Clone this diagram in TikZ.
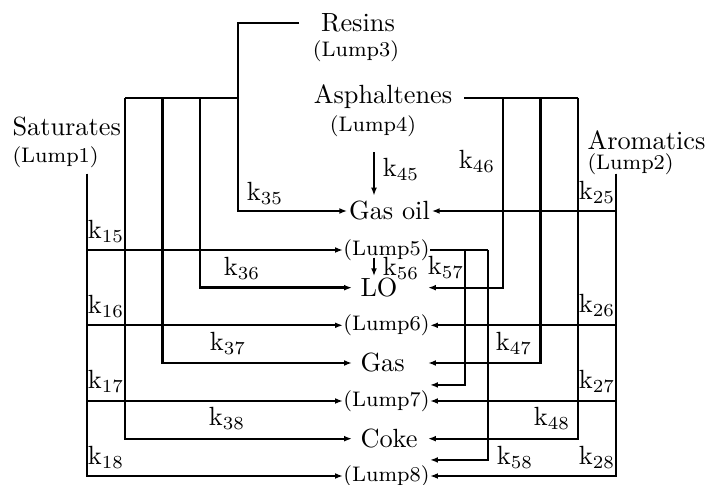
\documentclass[tikz,border=0pt]{standalone}
\usetikzlibrary{arrows.meta,calc}
\begin{document}
\begin{tikzpicture}[x=0.38pt,y=-0.38pt,
  ln/.style={line width=0.85pt},
  arr/.style={ln,-{Latex[length=3pt,width=2.2pt]}},
  heavy/.style={line width=1.0pt},
  lbl/.style={inner sep=0pt},
  title/.style={inner sep=0pt},
  lump/.style={inner sep=0pt,font=\footnotesize},
  prod/.style={anchor=west,inner xsep=3.04pt,inner ysep=0.5pt,text width=22.4pt,align=left},
  ]
\useasboundingbox (0,0) rectangle (707,485);
% feed lumps
\node[title,anchor=west] (sat) at (12,127) {Saturates};
\node[lump,anchor=west] (l1) at (12,157.5) {(Lump1)};
\node[title,anchor=west] (aro) at (587,140) {Aromatics};
\node[lump,anchor=west] (l2) at (587,164.5) {(Lump2)};
\node[title] (res) at (358,22.5) {Resins};
\node[lump] (l3) at (356,51) {(Lump3)};
\node[title] (asp) at (383,96.5) {Asphaltenes};
\node[lump] (l4) at (373,126) {(Lump4)};
% products
\node[inner xsep=0.5pt,inner ysep=2pt] (go) at (389.5,211) {Gas oil};
\node[lump] (l5) at (386.5,250) {(Lump5)};
\node[prod] (lo) at (352,287.7) {LO};
\node[lump] (l6) at (386.5,325.3) {(Lump6)};
\node[prod] (gas) at (352,363) {Gas};
\node[lump] (l7) at (386.5,401) {(Lump7)};
\node[prod] (coke) at (352,438.7) {Coke};
\node[lump] (l8) at (386.5,476) {(Lump8)};
% junction coordinates
\coordinate (s0) at (87,174);
\coordinate (a0) at (616,174);
\coordinate (r0) at (299,22.7);
\coordinate (rj) at (237.7,97.7);
\coordinate (r36) at (200,97.7);
\coordinate (r37) at (162.5,97.7);
\coordinate (r38) at (125,97.7);
\coordinate (aj) at (464,97.7);
\coordinate (a46) at (503,97.7);
\coordinate (a47) at (540.7,97.7);
\coordinate (a48) at (578,97.7);
\coordinate (b57) at (465,250);
\coordinate (b58) at (488,250);
% Saturates
\foreach \t in {l5,l6,l7,l8} \draw[arr] (s0) |- (\t.west);
% Aromatics
\foreach \t in {go,l6,l7,l8} \draw[arr] (a0) |- (\t.east);
% Resins
\draw[ln] (r0) -| (rj);
\draw[arr] (rj) |- (go.west);
\draw[ln] (rj) -- (r38);
\draw[arr,heavy] (r36) |- (lo.west);
\draw[arr] (r37) |- (gas.west);
\draw[arr] (r38) |- (coke.west);
% Asphaltenes
\draw[ln] (aj) -- (a48);
\draw[arr] (a46) |- (lo.east);
\draw[arr,heavy] (a47) |- (gas.east);
\draw[arr] (a48) |- (coke.east);
% Lump5
\draw[ln] (l5.east) -- (b58);
\draw[arr] (b57) |- ([yshift=6.1pt]l7.east);
\draw[arr] (b58) |- ([yshift=6.1pt]l8.east);
% vertical arrows
\path ([xshift=0.38pt,yshift=-5.8pt]l4.south) coordinate (c45);
\draw[arr] (c45) -- (c45 |- go.north);
\path ([xshift=-4.75pt,yshift=1.3pt]l5.south) coordinate (c56);
\draw[arr] (c56) -- (c56 |- lo.north);
% rate labels
\node[lbl] (k35) at (265,193) {$\mathrm{k}_{35}$};
\node[lbl] (k15) at (106,231) {$\mathrm{k}_{15}$};
\node[lbl] (k36) at (242,268) {$\mathrm{k}_{36}$};
\node[lbl] (k16) at (106,306) {$\mathrm{k}_{16}$};
\node[lbl] (k37) at (228,343) {$\mathrm{k}_{37}$};
\node[lbl] (k17) at (106,381) {$\mathrm{k}_{17}$};
\node[lbl] (k38) at (227,418) {$\mathrm{k}_{38}$};
\node[lbl] (k18) at (106,457) {$\mathrm{k}_{18}$};
\node[lbl] (k45) at (401,169) {$\mathrm{k}_{45}$};
\node[lbl] (k46) at (477,161) {$\mathrm{k}_{46}$};
\node[lbl] (k25) at (597,192) {$\mathrm{k}_{25}$};
\node[lbl] (k56) at (401,268) {$\mathrm{k}_{56}$};
\node[lbl] (k57) at (446,267) {$\mathrm{k}_{57}$};
\node[lbl] (k26) at (597,305) {$\mathrm{k}_{26}$};
\node[lbl] (k47) at (514,343) {$\mathrm{k}_{47}$};
\node[lbl] (k27) at (597,381) {$\mathrm{k}_{27}$};
\node[lbl] (k48) at (552,418) {$\mathrm{k}_{48}$};
\node[lbl] (k58) at (515,457) {$\mathrm{k}_{58}$};
\node[lbl] (k28) at (597,457) {$\mathrm{k}_{28}$};
\end{tikzpicture}
\end{document}
